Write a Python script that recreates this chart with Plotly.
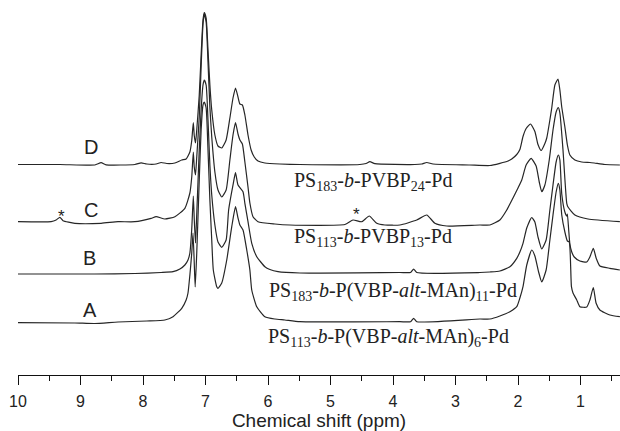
import numpy as np
import plotly.graph_objects as go

# ---- data (ppm, relative intensity) ----
ppm_D = [10.00, 9.33, 8.77, 8.67, 8.59, 8.13, 8.03, 7.94, 7.79, 7.71, 7.62, 7.49, 7.38, 7.31, 7.25, 7.22, 7.195, 7.18, 7.16, 7.14,
         7.10, 7.07, 7.04, 7.02, 6.99, 6.96, 6.93, 6.90, 6.85, 6.80, 6.74, 6.67, 6.61, 6.56, 6.52, 6.48, 6.45, 6.41, 6.37, 6.32,
         6.27, 6.22, 6.16, 6.05, 5.81, 5.49, 4.53, 4.43, 4.37, 4.29, 3.65, 3.54, 3.46, 3.36, 2.77, 2.45, 2.29, 2.16, 2.10, 2.02,
         1.97, 1.92, 1.87, 1.80, 1.73, 1.68, 1.63, 1.57, 1.54, 1.49, 1.46, 1.41, 1.36, 1.33, 1.30, 1.25, 1.21, 1.17, 1.09, 0.98,
         0.85, 0.78, 0.61, 0.37]
int_D = [0, 0, -0.5, 1.8, -0.3, 0, 1.7, 0.5, 0.5, 2, 1, 1.5, 4.5, 5.5, 12.5, 24, 42, 29, 21.5, 34.5,
         69.5, 109.5, 144.5, 151.8, 146.5, 114.5, 79.5, 54.5, 29.5, 18.5, 16.5, 24.5, 46.5, 66.5, 76.5, 67.5, 60.5, 59.5, 49.5, 29.5,
         14.5, 7.5, 3.5, 1.5, 0.5, 0, 0, 1, 2.8, 0.8, 0, 0.5, 2, 0.5, -0.5, -1, 1.2, 3.5, 5.5, 10,
         15, 28, 36, 40.5, 33, 20, 14, 21, 26.5, 44.5, 56.5, 79.5, 85.5, 74.5, 57.5, 37.5, 19.5, 9.5, 4.5, 2.5,
         2, 1.5, 0, -0.5]

ppm_C = [10.00, 9.47, 9.39, 9.33, 9.28, 9.09, 8.67, 8.40, 8.13, 7.87, 7.79, 7.65, 7.49, 7.33, 7.25, 7.22, 7.195, 7.18, 7.16, 7.14,
         7.10, 7.07, 7.04, 7.02, 6.99, 6.96, 6.93, 6.90, 6.85, 6.80, 6.74, 6.67, 6.61, 6.56, 6.52, 6.48, 6.45, 6.41, 6.37, 6.32,
         6.29, 6.24, 6.16, 5.89, 5.65, 4.77, 4.64, 4.50, 4.38, 4.26, 4.13, 3.89, 3.62, 3.46, 3.33, 3.14, 2.61, 2.45, 2.29, 2.18,
         2.08, 2.00, 1.94, 1.87, 1.79, 1.71, 1.66, 1.62, 1.57, 1.50, 1.44, 1.39, 1.355, 1.33, 1.28, 1.22, 1.20, 1.09, 0.88, 0.37]
int_C = [0.3, 0.3, 2, 4.7, 1.3, -1.3, -1.3, 0.3, 0.3, 3.7, 5.3, 3, 5.3, 13.7, 29, 45, 70, 55, 47, 65,
         105, 155, 198, 208, 200, 160, 115, 85, 50, 32, 25, 32, 62, 87, 99.3, 88, 82, 78, 60, 35,
         19, 5.3, 0.3, -2, -3, -2.5, 2, 0.3, 6, -1.3, -3, -3, 2, 7, -1.3, -4, -3, -3, 2, 12,
         24, 34, 42, 57, 63.7, 56, 40, 30.3, 37, 62, 92, 110, 114.3, 109, 72, 18.7, 15, 7, 3, 0.3]

ppm_B = [10.00, 8.77, 8.13, 7.71, 7.52, 7.41, 7.33, 7.28, 7.25, 7.22, 7.195, 7.18, 7.16, 7.14, 7.10, 7.07, 7.04, 7.02, 6.99, 6.96,
         6.93, 6.90, 6.85, 6.80, 6.74, 6.67, 6.63, 6.555, 6.52, 6.48, 6.40, 6.37, 6.32, 6.26, 6.18, 6.05, 5.97, 5.84, 5.49, 3.89,
         3.72, 3.67, 3.62, 2.61, 2.45, 2.29, 2.13, 2.02, 1.97, 1.92, 1.86, 1.78, 1.73, 1.68, 1.62, 1.55, 1.49, 1.44, 1.39, 1.355,
         1.33, 1.30, 1.25, 1.22, 1.21, 1.19, 1.17, 1.14, 1.10, 1.01, 0.90, 0.85, 0.795, 0.75, 0.69, 0.53, 0.37]
int_B = [0, 0, 0.5, 1.5, 2.3, 5, 9, 14, 21, 45, 78, 55, 31, 60, 124, 164, 189, 194, 189, 154,
         109, 79, 49, 32, 26.7, 34, 64, 90.7, 101.3, 89, 82.3, 70.7, 52.3, 30.7, 17.3, 7.3, 4.5, 2.3, 1, 1.5,
         1.5, 5, 1.5, 1.5, 2, 3, 7.3, 15.7, 22, 30.7, 46, 56.5, 52, 37, 25, 34, 64, 89, 112, 119,
         114, 80, 62, 58, 60, 45, 30, 22, 17, 13, 12, 17, 25.7, 16, 8, 5.7, 4]

ppm_A = [10.00, 9.09, 8.77, 8.40, 7.94, 7.65, 7.52, 7.38, 7.31, 7.28, 7.25, 7.22, 7.20, 7.18, 7.165, 7.14, 7.10, 7.07, 7.04, 7.02,
         6.99, 6.96, 6.93, 6.90, 6.875, 6.82, 6.80, 6.74, 6.66, 6.58, 6.52, 6.48, 6.45, 6.40, 6.34, 6.29, 6.26, 6.18, 6.05, 5.89,
         5.73, 5.49, 3.89, 3.72, 3.67, 3.62, 2.61, 2.45, 2.29, 2.13, 2.02, 1.97, 1.92, 1.86, 1.78, 1.73, 1.67, 1.62, 1.55, 1.49,
         1.44, 1.39, 1.355, 1.33, 1.30, 1.25, 1.21, 1.18, 1.145, 1.12, 1.06, 1.01, 0.90, 0.85, 0.795, 0.75, 0.69, 0.53, 0.37]
int_A = [0.3, 0, -0.5, 1, 2, 3, 6.3, 14.7, 23, 30, 48, 70, 90, 60, 36, 70, 143, 193, 218, 221,
         215, 173, 123, 83, 53, 36.3, 34.7, 40, 63, 96.3, 116.3, 105, 98, 93, 73, 53, 33, 16.3, 6.3, 4,
         3, 1.3, 1.3, 1.3, 4.7, 1.3, 4, 4, 7, 11.3, 16.3, 25, 36.3, 58, 73, 67, 51, 41, 53, 83,
         108, 131, 139.7, 133, 108, 91, 82, 81, 36.3, 30, 23, 16.3, 16, 23, 35.5, 19.7, 13, 8, 6.3]

offsets = {"D": 210.5, "C": 153, "B": 101, "A": 52}
series = [("D", ppm_D, int_D), ("C", ppm_C, int_C), ("B", ppm_B, int_B), ("A", ppm_A, int_A)]

sample_labels = ["D", "C", "B", "A"]
polymer_labels = [
    "PS<sub>183</sub>-<i>b</i>-PVBP<sub>24</sub>-Pd",
    "PS<sub>113</sub>-<i>b</i>-PVBP<sub>13</sub>-Pd",
    "PS<sub>183</sub>-<i>b</i>-P(VBP-<i>alt</i>-MAn)<sub>11</sub>-Pd",
    "PS<sub>113</sub>-<i>b</i>-P(VBP-<i>alt</i>-MAn)<sub>6</sub>-Pd",
]
tick_vals = [10, 9, 8, 7, 6, 5, 4, 3, 2, 1]
tick_text = [str(v) for v in tick_vals]

fig = go.Figure()
for name, x, y in series:
    fig.add_trace(go.Scatter(
        x=x, y=np.array(y, dtype=float) + offsets[name], mode="lines",
        line=dict(color="#262626", width=1.2, shape="spline", smoothing=0.5),
        showlegend=False, hoverinfo="skip"))

ann = []
letter_pos = [(0.1213, 0.6088), (0.1208, 0.440), (0.119, 0.3112), (0.119, 0.1733)]
for t, (px, py) in zip(sample_labels, letter_pos):
    ann.append(dict(text=t, x=px, y=py, xref="paper", yref="paper", showarrow=False,
                    xanchor="center", yanchor="middle",
                    font=dict(family="Liberation Sans, Arial", size=20, color="#222")))
for px, py in [(0.0719, 0.424), (0.5626, 0.429)]:
    ann.append(dict(text="*", x=px, y=py, xref="paper", yref="paper", showarrow=False,
                    xanchor="center", yanchor="middle", borderpad=0,
                    font=dict(family="Liberation Sans, Arial", size=17, color="#222")))
poly_pos = [(0.4568, 0.515), (0.4568, 0.366), (0.4153, 0.222), (0.4136, 0.099)]
for t, (px, py) in zip(polymer_labels, poly_pos):
    ann.append(dict(text=t, x=px, y=py, xref="paper", yref="paper", showarrow=False,
                    xanchor="left", yanchor="middle", borderpad=0,
                    font=dict(family="Liberation Serif, Times New Roman", size=20, color="#222")))

fig.update_layout(
    width=620, height=431,
    margin=dict(l=18, r=0, t=0, b=56, autoexpand=False),
    paper_bgcolor="white", plot_bgcolor="white",
    annotations=ann,
    xaxis=dict(range=[10, 0.368], tickvals=tick_vals, ticktext=tick_text, automargin=False,
               ticks="outside", ticklen=9, tickwidth=1.2, tickcolor="#111",
               showline=True, linecolor="#111", linewidth=1.3,
               showgrid=False, zeroline=False, ticklabelstandoff=3,
               minor=dict(tick0=0, dtick=0.5, ticks="outside", ticklen=5, tickwidth=1.2, tickcolor="#111"),
               tickfont=dict(family="Liberation Sans, Arial", size=16, color="#222"),
               title=dict(text="Chemical shift (ppm)", standoff=5,
                          font=dict(family="Liberation Sans, Arial", size=19, color="#222"))),
    yaxis=dict(range=[0, 375], visible=False, fixedrange=True, automargin=False),
)
fig.write_html("out.html", config={"displayModeBar": False},
               post_script="document.body.style.margin='0px';document.body.style.overflow='hidden';")
